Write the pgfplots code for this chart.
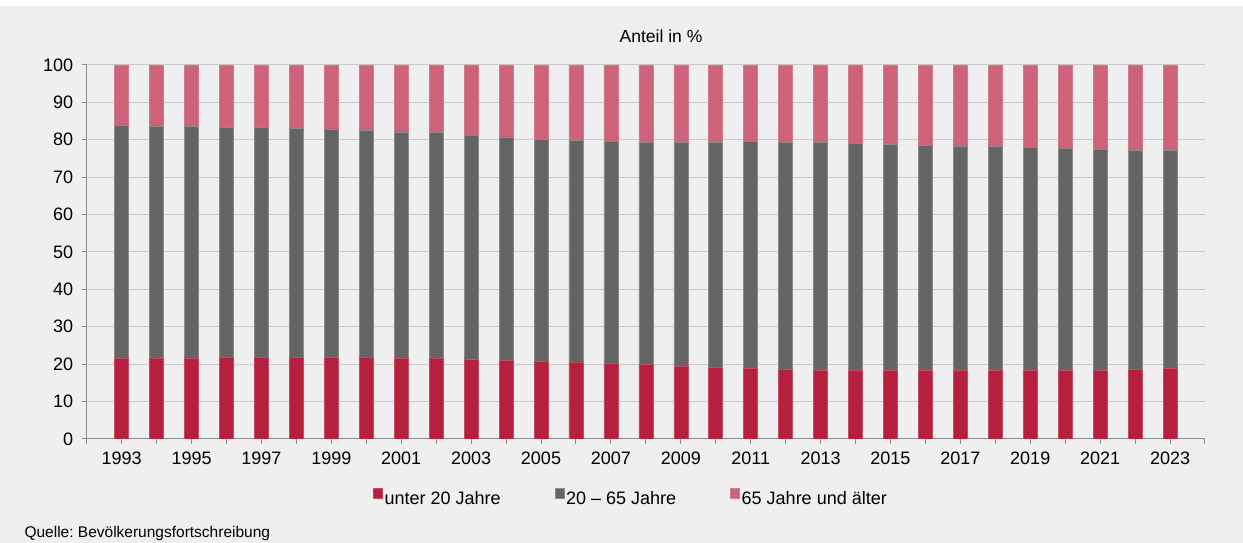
\documentclass[border=0pt]{standalone}
\usepackage{pgfplots}
\pgfplotsset{compat=1.18}
\usepackage{pgfplotstable}
\usepackage{fontspec}
\setmainfont{Liberation Sans}
\frenchspacing

\definecolor{bg}{HTML}{EEEFEE}
\definecolor{cyoung}{HTML}{B71F3E}
\definecolor{cmid}{HTML}{646464}
\definecolor{cold}{HTML}{CD6279}
\definecolor{axisgray}{HTML}{8C8C8C}
\definecolor{gridgray}{HTML}{CACACA}

% Anteile in %: unter 20, 20-65, 65 und aelter
\pgfplotstableread{
year young mid old
1993 21.50 62.50 16.00
1994 21.65 62.10 16.25
1995 21.70 61.80 16.50
1996 21.90 61.50 16.60
1997 21.90 61.50 16.60
1998 21.90 61.30 16.80
1999 21.90 61.00 17.10
2000 21.80 60.80 17.40
2001 21.65 60.45 17.90
2002 21.55 60.35 18.10
2003 21.40 59.90 18.70
2004 21.10 59.70 19.20
2005 20.85 59.35 19.80
2006 20.60 59.30 20.10
2007 20.30 59.30 20.40
2008 20.00 59.40 20.60
2009 19.40 59.90 20.70
2010 19.20 60.20 20.60
2011 18.90 60.65 20.45
2012 18.60 60.80 20.60
2013 18.35 61.05 20.60
2014 18.35 60.75 20.90
2015 18.35 60.45 21.20
2016 18.35 60.25 21.40
2017 18.35 60.05 21.60
2018 18.35 59.95 21.70
2019 18.35 59.65 22.00
2020 18.35 59.45 22.20
2021 18.40 59.00 22.60
2022 18.70 58.50 22.80
2023 18.80 58.30 22.90
}\agedata

\begin{document}
\begin{tikzpicture}[x=1pt,y=1pt]
\path[use as bounding box] (0,0) rectangle (1243,543);
\fill[bg] (0,0) rectangle (1243,537);
\node[font=\fontsize{17.5}{20}\selectfont] at (661,507) {Anteil in \%};
\node[anchor=west, font=\fontsize{15.5}{18}\selectfont] at (21,9.5) {Quelle: Bevölkerungsfortschreibung};
\begin{axis}[
  at={(86.7pt,104pt)}, anchor=south west,
  scale only axis, width=1118.3pt, height=374pt,
  ybar stacked, bar width=14pt,
  xmin=1992, xmax=2024, ymin=0, ymax=100,
  axis x line*=bottom, axis y line*=left,
  axis line style={draw=axisgray, line width=1pt},
  xtick={1993,1995,...,2023},
  minor xtick={1992,1994,...,2024},
  ytick={0,10,...,100},
  tick align=outside,
  major tick length=5pt, minor tick length=5pt,
  tick style={draw=axisgray, line width=1pt},
  xtick pos=bottom, ytick pos=left,
  ymajorgrids, grid style={draw=gridgray, line width=1pt},
  ticklabel style={font=\fontsize{18}{21}\selectfont},
  /pgf/number format/assume math mode=true,
  xticklabel style={/pgf/number format/1000 sep={}, yshift=-4pt},
  yticklabel style={xshift=-5pt},
  legend columns=3,
  legend style={at={(0.4867,-0.1578)}, anchor=center, draw=none, fill=none,
    font=\fontsize{18}{21}\selectfont,
    /tikz/every even column/.append style={column sep=52pt},
    nodes={inner xsep=2pt}},
  legend image code/.code={\fill[#1] (0pt,0pt) rectangle (9pt,10pt);},
]
\addplot[fill=cyoung, draw=cyoung!80!white, line width=0.5pt] table[x=year, y=young] {\agedata};
\addplot[fill=cmid, draw=cmid!75!white, line width=0.5pt] table[x=year, y=mid] {\agedata};
\addplot[fill=cold, draw=cold!85!white, line width=0.5pt] table[x=year, y=old] {\agedata};
\legend{unter 20 Jahre, 20 -- 65 Jahre, 65 Jahre und älter}
\end{axis}
\end{tikzpicture}
\end{document}
